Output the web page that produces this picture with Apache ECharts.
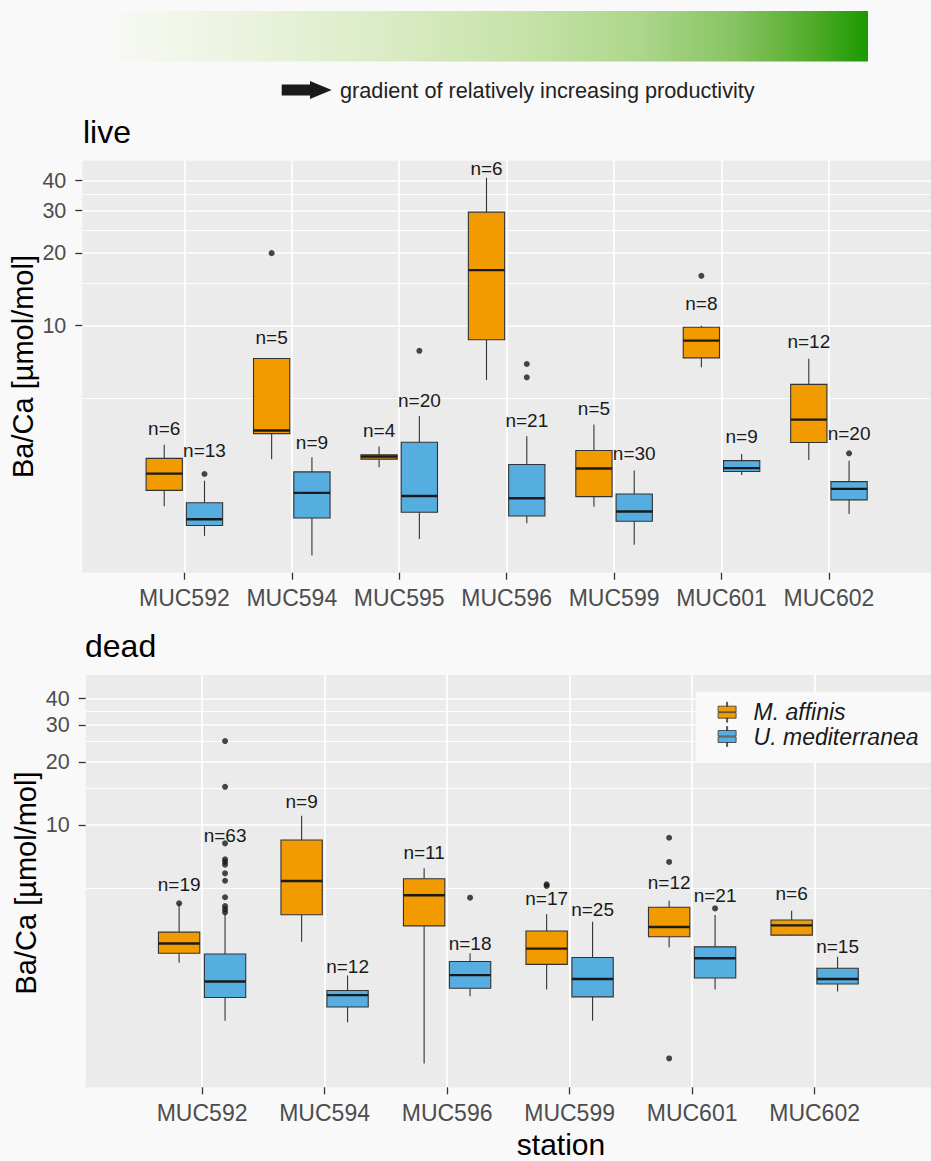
<!DOCTYPE html>
<html>
<head>
<meta charset="utf-8">
<script src="https://cdn.jsdelivr.net/npm/echarts@6/dist/echarts.min.js"></script>
<style>
  html, body { margin: 0; padding: 0; background: #f9f9f9; }
  #chart { width: 931px; height: 1161px; }
</style>
</head>
<body>
<div id="chart"></div>
<script>
// Stations, ordered along the productivity gradient
const liveStations = ['MUC592', 'MUC594', 'MUC595', 'MUC596', 'MUC599', 'MUC601', 'MUC602'];
const deadStations = ['MUC592', 'MUC594', 'MUC596', 'MUC599', 'MUC601', 'MUC602'];

// Box statistics per station: [lower whisker, Q1, median, Q3, upper whisker], Ba/Ca in µmol/mol
const liveAffinis = [
  [1.78, 2.07, 2.43, 2.81, 3.20],
  [2.79, 3.56, 3.67, 7.30, 7.30],
  [2.58, 2.79, 2.86, 2.91, 3.15],
  [5.94, 8.74, 17.0, 29.6, 41.1],
  [1.77, 1.95, 2.55, 3.03, 3.89],
  [6.72, 7.35, 8.66, 9.84, 10.0],
  [2.77, 3.27, 4.07, 5.70, 7.28]
];
const liveUmed = [
  [1.34, 1.48, 1.57, 1.84, 2.27],
  [1.11, 1.59, 2.02, 2.47, 2.84],
  [1.30, 1.68, 1.96, 3.28, 4.21],
  [1.51, 1.62, 1.92, 2.65, 3.47],
  [1.23, 1.54, 1.69, 2.00, 2.50],
  [2.40, 2.48, 2.56, 2.75, 2.93],
  [1.65, 1.89, 2.10, 2.25, 2.75]
];
const deadAffinis = [
  [2.21, 2.45, 2.73, 3.09, 4.22],
  [2.78, 3.74, 5.41, 8.48, 11.07],
  [0.733, 3.31, 4.63, 5.55, 6.22],
  [1.65, 2.17, 2.58, 3.13, 3.76],
  [2.62, 2.94, 3.27, 4.06, 4.36],
  [2.96, 2.99, 3.33, 3.53, 3.91]
];
const deadUmed = [
  [1.17, 1.51, 1.80, 2.43, 3.80],
  [1.15, 1.36, 1.55, 1.63, 1.92],
  [1.53, 1.67, 1.93, 2.24, 2.45],
  [1.17, 1.52, 1.85, 2.34, 3.46],
  [1.65, 1.87, 2.32, 2.63, 3.73],
  [1.61, 1.75, 1.85, 2.08, 2.36]
];

// Outliers: [station index, value]
const liveAffinisOut = [[1, 20.0], [5, 16.1]];
const liveUmedOut = [[0, 2.42], [2, 7.86], [3, 6.10], [3, 6.93], [6, 2.95]];
const deadAffinisOut = [[0, 4.24], [3, 5.13], [3, 5.22], [4, 0.774], [4, 6.67], [4, 8.70]];
const deadUmedOut = [
  [0, 3.84], [0, 3.97], [0, 4.11], [0, 4.53], [0, 5.43], [0, 5.89], [0, 6.47],
  [0, 6.67], [0, 6.87], [0, 8.18], [0, 15.2], [0, 25.1], [2, 4.51], [4, 4.01]
];

// Sample sizes, and the Ba/Ca level at which each "n=" note is written
const liveAffinisN = [6, 5, 4, 6, 5, 8, 12];
const liveUmedN = [13, 9, 20, 21, 30, 9, 20];
const deadAffinisN = [19, 9, 11, 17, 12, 6];
const deadUmedN = [63, 12, 18, 25, 21, 15];
const liveAffinisNAt = [3.73, 8.93, 3.67, 44.9, 4.52, 12.4, 8.60];
const liveUmedNAt = [3.03, 3.26, 4.87, 4.02, 2.95, 3.47, 3.56];
const deadAffinisNAt = [5.22, 12.9, 7.38, 4.48, 5.31, 4.73];
const deadUmedNAt = [8.96, 2.13, 2.73, 3.94, 4.61, 2.65];

// Log-axis breaks
const majorTicks = [10, 20, 30, 40];
const minorTicks = [5, 15, 25, 35];

// ---- styling ----
const FONT = '"Liberation Sans", Arial, Helvetica, sans-serif';
const ORANGE = '#f29b00';
const BLUE = '#56ade0';
const INK = '#333333';
const DODGE = 0.1875;      // box offset from the station centre, in station units
const BOX_FRAC = 0.3375;   // box width, in station units
const PAD = 0.95;          // empty space left/right of the outer stations, in station units

const panels = [
  {
    stations: liveStations, affinis: liveAffinis, umed: liveUmed,
    affinisOut: liveAffinisOut, umedOut: liveUmedOut,
    affinisN: liveAffinisN, umedN: liveUmedN,
    affinisNAt: liveAffinisNAt, umedNAt: liveUmedNAt,
    left: 82.3, top: 160.7, height: 412, step: 108.4,
    yMin: 0.942, yMax: 48.4, labelMargin: 16
  },
  {
    stations: deadStations, affinis: deadAffinis, umed: deadUmed,
    affinisOut: deadAffinisOut, umedOut: deadUmedOut,
    affinisN: deadAffinisN, umedN: deadUmedN,
    affinisNAt: deadAffinisNAt, umedNAt: deadUmedNAt,
    left: 85.7, top: 675, height: 412.3, step: 124,
    yMin: 0.564, yMax: 51.8, labelMargin: 16
  }
];

function boxRenderer(dodge, fill) {
  return function (params, api) {
    const i = api.value(0);
    const c0 = api.coord([i, api.value(3)]);
    const band = api.coord([i + 1, api.value(3)])[0] - c0[0];
    const cx = c0[0] + dodge * band;
    const half = BOX_FRAC * band / 2;
    const y = (k) => api.coord([i, api.value(k)])[1];
    const yLo = y(1), yQ1 = y(2), yMed = y(3), yQ3 = y(4), yHi = y(5);
    return {
      type: 'group',
      children: [
        { type: 'line', shape: { x1: cx, y1: yHi, x2: cx, y2: yQ3 }, style: { stroke: INK, lineWidth: 1.1 } },
        { type: 'line', shape: { x1: cx, y1: yQ1, x2: cx, y2: yLo }, style: { stroke: INK, lineWidth: 1.1 } },
        { type: 'rect', shape: { x: cx - half, y: yQ3, width: 2 * half, height: yQ1 - yQ3 },
          style: { fill: fill, stroke: INK, lineWidth: 1.1 } },
        { type: 'line', shape: { x1: cx - half, y1: yMed, x2: cx + half, y2: yMed },
          style: { stroke: '#1a1a1a', lineWidth: 2.4 } }
      ]
    };
  };
}

function countRenderer(dodge) {
  return function (params, api) {
    const i = api.value(0);
    const p = api.coord([i, api.value(1)]);
    const band = api.coord([i + 1, api.value(1)])[0] - p[0];
    return {
      type: 'text',
      x: p[0] + dodge * band,
      y: p[1],
      style: {
        text: 'n=' + api.value(2),
        align: 'center', verticalAlign: 'middle',
        fontSize: 19, fontFamily: FONT, fill: '#1a1a1a'
      }
    };
  };
}

const grids = [], xAxes = [], yAxes = [], series = [];

panels.forEach((p, gi) => {
  const n = p.stations.length;
  const idx = p.stations.map((_, i) => i);
  grids.push({
    left: p.left, top: p.top, height: p.height,
    width: (n - 1 + 2 * PAD) * p.step,
    show: true, backgroundColor: '#ebebeb', borderWidth: 0
  });
  xAxes.push({
    type: 'value', gridIndex: gi, min: -PAD, max: n - 1 + PAD, position: 'bottom',
    axisLine: { show: false, onZero: false },
    axisTick: { show: true, customValues: idx, length: 7, lineStyle: { color: INK, width: 1.3 } },
    axisLabel: {
      customValues: idx, formatter: (v) => p.stations[Math.round(v)],
      fontSize: 23, fontFamily: FONT, color: '#4d4d4d', margin: 14
    },
    splitLine: { show: true, lineStyle: { color: '#ffffff', width: 1.6 } }
  });
  // labelled breaks
  yAxes.push({
    type: 'log', logBase: 10, gridIndex: gi, min: p.yMin, max: p.yMax, position: 'left',
    axisLine: { show: false, onZero: false },
    axisTick: { show: true, customValues: majorTicks, length: 7, lineStyle: { color: INK, width: 1.3 } },
    axisLabel: {
      customValues: majorTicks, formatter: (v) => String(Math.round(v)),
      fontSize: 21.5, fontFamily: FONT, color: '#4d4d4d', margin: p.labelMargin
    },
    splitLine: { show: true, lineStyle: { color: '#ffffff', width: 1.6 } }
  });
  // unlabelled minor breaks
  yAxes.push({
    type: 'log', logBase: 10, gridIndex: gi, min: p.yMin, max: p.yMax, position: 'left',
    axisLine: { show: false, onZero: false },
    axisTick: { show: false, customValues: minorTicks },
    axisLabel: { show: false, customValues: minorTicks },
    splitLine: { show: true, lineStyle: { color: '#ffffff', width: 0.9 } }
  });
  const yi = gi * 2;
  const groups = [
    { name: 'M. affinis', stats: p.affinis, out: p.affinisOut, ns: p.affinisN, nAt: p.affinisNAt, dodge: -DODGE, color: ORANGE },
    { name: 'U. mediterranea', stats: p.umed, out: p.umedOut, ns: p.umedN, nAt: p.umedNAt, dodge: DODGE, color: BLUE }
  ];
  groups.forEach((g) => {
    series.push({
      type: 'custom', name: g.name, xAxisIndex: gi, yAxisIndex: yi,
      itemStyle: { color: g.color, borderColor: INK },
      encode: { x: 0, y: [1, 2, 3, 4, 5] },
      data: g.stats.map((s, i) => [i].concat(s)),
      renderItem: boxRenderer(g.dodge, g.color),
      z: 3
    });
    series.push({
      type: 'scatter', name: g.name + ' outliers', xAxisIndex: gi, yAxisIndex: yi,
      symbol: 'circle', symbolSize: 6,
      itemStyle: { color: '#1a1a1a' },
      data: g.out.map(([i, v]) => [i + g.dodge, v]),
      z: 4
    });
    series.push({
      type: 'custom', name: g.name + ' counts', xAxisIndex: gi, yAxisIndex: yi,
      encode: { x: 0, y: 1 },
      data: g.nAt.map((v, i) => [i, v, g.ns[i]]),
      renderItem: countRenderer(g.dodge),
      z: 5
    });
  });
});

// legend key: a small box with whiskers and a median split
const KEY_PATH = 'path://M9,0H10V4H9Z M0.5,4H18.5V9.6H0.5Z M0.5,10.4H18.5V16H0.5Z M9,16H10V20H9Z';

const option = {
  backgroundColor: '#f9f9f9',
  animation: false,
  grid: grids,
  xAxis: xAxes,
  yAxis: yAxes,
  series: series,
  legend: {
    orient: 'vertical', left: 695.7, top: 691.7,
    padding: [9, 60, 15, 22], itemGap: 1.3,
    itemWidth: 19, itemHeight: 20,
    backgroundColor: '#f9f9f9', selectedMode: false,
    textStyle: { fontSize: 23, fontStyle: 'italic', fontFamily: FONT, color: '#1a1a1a', lineHeight: 22, padding: [0, 0, 0, 12] },
    data: [
      { name: 'M. affinis', icon: KEY_PATH, itemStyle: { color: ORANGE, borderColor: INK, borderWidth: 0.8 } },
      { name: 'U. mediterranea', icon: KEY_PATH, itemStyle: { color: BLUE, borderColor: INK, borderWidth: 0.8 } }
    ]
  },
  graphic: [
    {
      type: 'rect', silent: true,
      shape: { x: 113, y: 11, width: 755, height: 50.5 },
      style: {
        fill: {
          type: 'linear', x: 0, y: 0, x2: 1, y2: 0,
          colorStops: [
            { offset: 0, color: '#f7f9f4' },
            { offset: 0.15, color: '#edf4e2' },
            { offset: 0.35, color: '#dcecc7' },
            { offset: 0.55, color: '#c5e2a7' },
            { offset: 0.7, color: '#acd68b' },
            { offset: 0.82, color: '#88c463' },
            { offset: 0.92, color: '#55ad2e' },
            { offset: 1, color: '#1a9a00' }
          ]
        }
      }
    },
    {
      type: 'polygon', silent: true,
      shape: { points: [[281.7, 84.6], [310, 84.6], [310, 81], [331.7, 90], [310, 99], [310, 95.4], [281.7, 95.4]] },
      style: { fill: '#1a1a1a' }
    },
    {
      type: 'text', silent: true, x: 340, y: 90,
      style: { text: 'gradient of relatively increasing productivity', fontSize: 21.7, fontFamily: FONT, fill: '#222222', verticalAlign: 'middle' }
    },
    {
      type: 'text', silent: true, x: 83, y: 131.6,
      style: { text: 'live', fontSize: 32, fontFamily: FONT, fill: '#000000', verticalAlign: 'middle' }
    },
    {
      type: 'text', silent: true, x: 85, y: 645.9,
      style: { text: 'dead', fontSize: 32, fontFamily: FONT, fill: '#000000', verticalAlign: 'middle' }
    },
    {
      type: 'text', silent: true, x: 23.3, y: 366.5, rotation: Math.PI / 2,
      style: { text: 'Ba/Ca [µmol/mol]', fontSize: 29, fontFamily: FONT, fill: '#000000', align: 'center', verticalAlign: 'middle' }
    },
    {
      type: 'text', silent: true, x: 25.5, y: 883, rotation: Math.PI / 2,
      style: { text: 'Ba/Ca [µmol/mol]', fontSize: 29, fontFamily: FONT, fill: '#000000', align: 'center', verticalAlign: 'middle' }
    },
    {
      type: 'text', silent: true, x: 561, y: 1144.6,
      style: { text: 'station', fontSize: 30, fontFamily: FONT, fill: '#000000', align: 'center', verticalAlign: 'middle' }
    }
  ]
};

const chart = echarts.init(document.getElementById('chart'), null, { renderer: 'svg', width: 931, height: 1161 });
chart.setOption(option);
</script>
</body>
</html>
